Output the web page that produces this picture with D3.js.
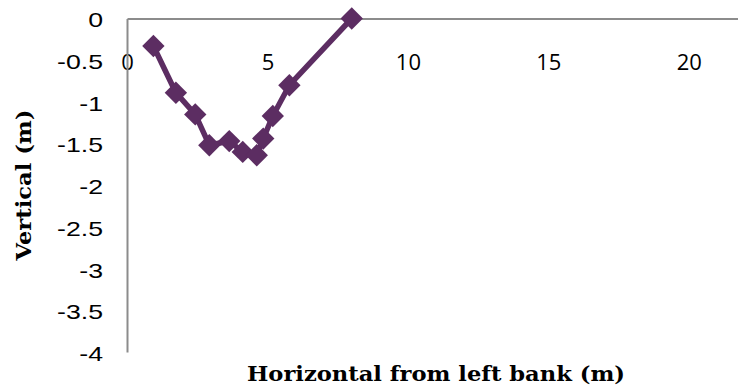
<!DOCTYPE html>
<html>
<head>
<meta charset="utf-8">
<script src="https://cdn.jsdelivr.net/npm/d3@7/dist/d3.min.js"></script>
<style>
  html, body { margin: 0; padding: 0; background: #fff; }
  svg { display: block; }
</style>
</head>
<body>
<svg id="chart" width="738" height="389"></svg>
<script>
// Channel cross-section profile: distance from left bank vs. depth
const horizontal = [0.94, 1.74, 2.43, 2.93, 3.64, 4.12, 4.62, 4.85, 5.19, 5.78, 8.0];
const vertical   = [-0.33, -0.89, -1.15, -1.52, -1.47, -1.60, -1.64, -1.44, -1.17, -0.80, 0];
const xTicks = [0, 5, 10, 15, 20];
const yTicks = [0, -0.5, -1, -1.5, -2, -2.5, -3, -3.5, -4];
const xTitle = "Horizontal from left bank (m)";
const yTitle = "Vertical (m)";

const points = horizontal.map((h, i) => ({ x: h, y: vertical[i] }));

const svg = d3.select("#chart");
const color = "#5C2D62";
const axisColor = "#8c8c8c";

const x = d3.scaleLinear().domain([0, 22]).range([127, 745]);
const y = d3.scaleLinear().domain([-4, 0]).range([352, 18.5]);

// Axis lines (no tick marks)
const xAxis = d3.axisTop(x).tickValues(xTicks).tickSize(0).tickFormat(d3.format("d"));
const gx = svg.append("g").attr("transform", `translate(0,${y(0)})`).call(xAxis);
gx.select(".domain").attr("stroke", axisColor).attr("stroke-width", 2);
gx.selectAll(".tick text")
  .attr("fill", "#000")
  .attr("font-family", "'Open Sans', sans-serif")
  .attr("font-size", 22)
  .attr("text-anchor", "middle")
  .attr("dominant-baseline", "central")
  .attr("y", 0)
  .attr("dy", null)
  .attr("transform", "translate(0,42)");

const yAxis = d3.axisLeft(y).tickValues(yTicks).tickSize(0).tickFormat(d => d3.format("")(d).replace("−", "-"));
const gy = svg.append("g").attr("transform", `translate(${x(0)},0)`).call(yAxis);
gy.select(".domain").attr("stroke", axisColor).attr("stroke-width", 2);
gy.selectAll(".tick text")
  .attr("fill", "#000")
  .attr("font-family", "'Liberation Sans', Arial, sans-serif")
  .attr("font-size", 21)
  .attr("text-anchor", "end")
  .attr("dominant-baseline", "central")
  .attr("x", 0)
  .attr("dy", null)
  .attr("transform", "translate(-24,1) scale(1.27,1)");

// Profile line
const line = d3.line().x(d => x(d.x)).y(d => y(d.y));
svg.append("path")
  .datum(points)
  .attr("fill", "none")
  .attr("stroke", color)
  .attr("stroke-width", 5.5)
  .attr("stroke-linejoin", "round")
  .attr("d", line);

// Diamond markers
const marker = d3.symbol().type(d3.symbolSquare).size(250);
svg.append("g").selectAll("path")
  .data(points)
  .join("path")
  .attr("d", marker)
  .attr("fill", color)
  .attr("transform", d => `translate(${x(d.x)},${y(d.y)}) rotate(45)`);

// Axis titles
svg.append("text")
  .attr("x", 436).attr("y", 381)
  .attr("text-anchor", "middle")
  .attr("font-family", "'DejaVu Serif', serif")
  .attr("font-weight", "bold")
  .attr("font-size", 21)
  .attr("textLength", 378)
  .attr("lengthAdjust", "spacingAndGlyphs")
  .text(xTitle);

svg.append("text")
  .attr("transform", "translate(31,185) rotate(-90)")
  .attr("text-anchor", "middle")
  .attr("font-family", "'DejaVu Serif', serif")
  .attr("font-weight", "bold")
  .attr("font-size", 21)
  .attr("textLength", 151)
  .attr("lengthAdjust", "spacingAndGlyphs")
  .text(yTitle);
</script>
</body>
</html>
